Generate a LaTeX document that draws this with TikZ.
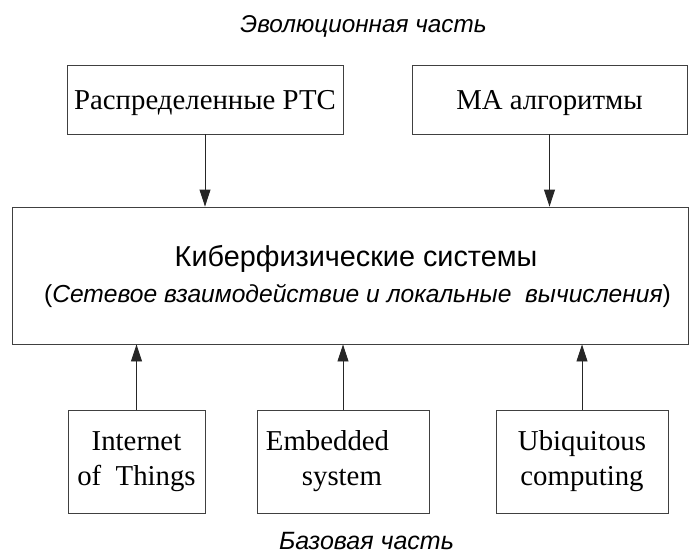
\documentclass[tikz,border=0pt]{standalone}
\usepackage{fontspec}
\setmainfont{Liberation Serif}
\newfontfamily\arialfont{Liberation Sans}
\usetikzlibrary{arrows.meta}
\begin{document}
\begin{tikzpicture}[x=1pt,y=-1pt,
  box/.style={draw=black!75, line width=0.9pt, inner sep=0pt,
    font=\fontsize{28.8}{35}\selectfont},
  onebox/.style={box, text height=19.1pt, text depth=0pt},
  arr/.style={draw=black!85, line width=0.9pt,
    -{Triangle[length=17pt,width=11pt]}},
  caption/.style={anchor=base, inner sep=0pt, text depth=0pt,
    font=\arialfont\itshape\fontsize{24.3}{28}\selectfont},
  maintext/.style={anchor=base, inner sep=0pt, font=\arialfont}
]
\useasboundingbox (0,0) rectangle (689,555);

\node[caption] (evo) at (363.5,32) {Эволюционная часть};

\node[onebox, minimum width=276pt, minimum height=69pt] (rts) at (205,99.5)
  {Распределенные РТС};
\node[onebox, minimum width=275pt, minimum height=69pt] (ma) at (549.5,99.5)
  {МА алгоритмы};

\node[box, minimum width=675.3pt, minimum height=137pt] (cps) at (350.35,275.5) {};
\node[maintext, font=\arialfont\fontsize{28.8}{34}\selectfont] (cpsA) at (356,266)
  {Киберфизические системы};
\node[maintext, font=\arialfont\fontsize{24.6}{30}\selectfont] (cpsB) at (357.5,302.7)
  {(\textit{Сетевое взаимодействие и локальные\ \ вычисления})};

\node[box, align=center, minimum width=137pt, minimum height=103pt] (iot) at (136.5,461.5)
  {Internet\\of\ \ Things};
\node[box, align=left, minimum width=172pt, minimum height=103pt] (emb) at (343,461.5)
  {Embedded\rule{31pt}{0pt}\\\rule{36pt}{0pt}system};
\node[box, align=center, minimum width=172pt, minimum height=103pt] (ubi) at (582,461.5)
  {Ubiquitous\\computing};

\node[caption, font=\arialfont\itshape\fontsize{25}{28}\selectfont] (base) at (366.5,549.5)
  {Базовая часть};

\draw[arr] (rts.south) -- (rts.south |- cps.north);
\draw[arr] (ma.south) -- (ma.south |- cps.north);
\draw[arr] (iot.north) -- (iot.north |- cps.south);
\draw[arr] (emb.north) -- (emb.north |- cps.south);
\draw[arr] (ubi.north) -- (ubi.north |- cps.south);
\end{tikzpicture}
\end{document}
